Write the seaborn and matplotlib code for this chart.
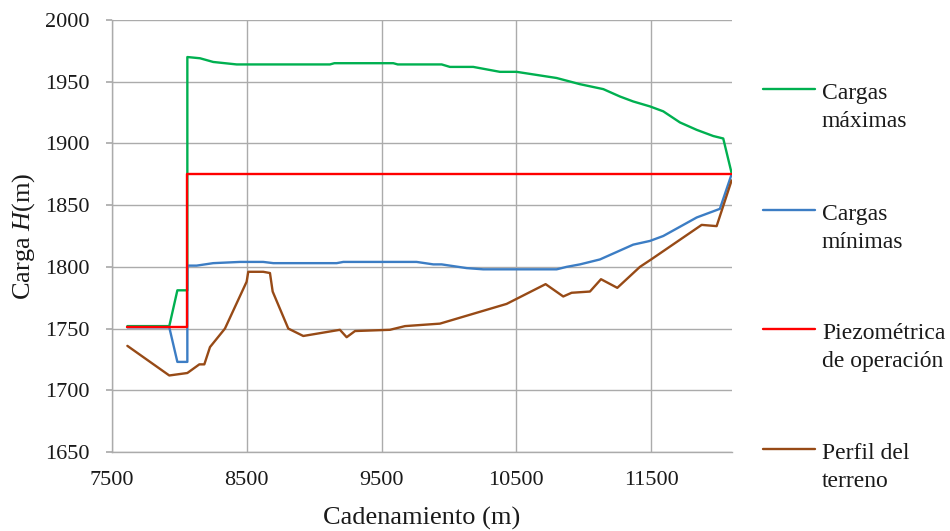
import pandas as pd
import matplotlib.pyplot as plt
import seaborn as sns
from matplotlib.lines import Line2D

# Cargas máximas
max_x = [7614, 7925, 7985, 8042, 8059, 8059, 8153, 8251, 8425, 9117, 9150, 9587, 9620,
         9946, 10007, 10180, 10378, 10502, 10799, 10972, 11145, 11269, 11367, 11491,
         11590, 11714, 11838, 11961, 12035, 12097]
max_y = [1752, 1752, 1781, 1781, 1781, 1970, 1969, 1966, 1964, 1964, 1965, 1965, 1964,
         1964, 1962, 1962, 1958, 1958, 1953, 1948, 1944, 1938, 1934, 1930,
         1926, 1917, 1911, 1906, 1904, 1876]

# Cargas mínimas
min_x = [7614, 7925, 7985, 8059, 8059, 8128, 8251, 8450, 8622, 8697, 9167, 9216, 9760,
         9884, 9946, 10131, 10254, 10799, 10873, 10972, 11120, 11367, 11491, 11590,
         11838, 12010, 12097]
min_y = [1751, 1751, 1723, 1723, 1801, 1801, 1803, 1804, 1804, 1803, 1803, 1804, 1804,
         1802, 1802, 1799, 1798, 1798, 1800, 1802, 1806, 1818, 1821, 1825,
         1840, 1847, 1875]

# Piezométrica de operación
piezo_x = [7614, 8059, 8059, 12097]
piezo_y = [1751, 1751, 1875, 1875]

# Perfil del terreno
terr_x = [7614, 7925, 8059, 8148, 8185, 8227, 8338, 8499, 8511, 8622, 8672, 8692, 8808,
          8919, 9191, 9241, 9303, 9562, 9674, 9933, 10428, 10717, 10848, 10910, 11046,
          11128, 11249, 11417, 11500, 11875, 11986, 12097]
terr_y = [1736, 1712, 1714, 1721, 1721, 1735, 1750, 1788, 1796, 1796, 1795, 1780, 1750,
          1744, 1749, 1743, 1748, 1749, 1752, 1754, 1770, 1786, 1776, 1779, 1780,
          1790, 1783, 1800, 1806, 1834, 1833, 1870]

series_names = ["Cargas\nmáximas", "Cargas\nmínimas", "Piezométrica\nde operación", "Perfil del\nterreno"]
series_colors = ["#00B050", "#3C7DC4", "#FF0000", "#974A16"]
y_ticks = [1650, 1700, 1750, 1800, 1850, 1900, 1950, 2000]
x_ticks = [7500, 8500, 9500, 10500, 11500]


def build_frame() -> pd.DataFrame:
    parts = []
    for name, xs, ys in zip(series_names,
                            [max_x, min_x, piezo_x, terr_x],
                            [max_y, min_y, piezo_y, terr_y]):
        parts.append(pd.DataFrame({"x": xs, "y": ys, "serie": name}))
    return pd.concat(parts, ignore_index=True)


def main() -> None:
    sns.set_theme(style="white")
    plt.rcParams["font.family"] = ["Liberation Serif", "DejaVu Serif"]
    plt.rcParams["mathtext.fontset"] = "custom"
    plt.rcParams["mathtext.it"] = "Liberation Serif:italic"
    plt.rcParams["mathtext.rm"] = "Liberation Serif"

    df = build_frame()

    fig = plt.figure(figsize=(9.5, 5.31), dpi=100)
    ax = fig.add_axes([112 / 950, 1 - 452 / 531, 620 / 950, 432 / 531])

    sns.lineplot(data=df, x="x", y="y", hue="serie", hue_order=series_names,
                 palette=series_colors, sort=False, estimator=None, units="serie",
                 linewidth=1.7, legend=False, ax=ax)

    ax.set_xlim(7500, 12100)
    ax.set_ylim(1650, 2000)
    ax.set_xticks(x_ticks)
    ax.set_yticks(y_ticks)
    ax.grid(True, color="#ABABAB", linewidth=1.0)
    ax.set_axisbelow(True)
    for side in ["top", "right"]:
        ax.spines[side].set_visible(False)
    for side in ["left", "bottom"]:
        ax.spines[side].set_color("#ABABAB")
        ax.spines[side].set_linewidth(1.0)
    ax.tick_params(axis="y", left=True, length=4, color="#ABABAB", pad=12,
                   labelsize=16, labelcolor="#1a1a1a")
    ax.tick_params(axis="x", bottom=False, pad=8, labelsize=16, labelcolor="#1a1a1a")

    ax.set_xlabel("Cadenamiento (m)", fontsize=19, labelpad=12, color="#1a1a1a")
    ax.set_ylabel("Carga $\\mathit{H}$(m)", fontsize=19, labelpad=6, color="#1a1a1a")

    # legend drawn at the right, handle aligned with first line of each label
    handle_y = [89, 210, 329, 449]
    for name, color, py in zip(series_names, series_colors, handle_y):
        yf = 1 - py / 531
        fig.add_artist(Line2D([763 / 950, 815 / 950], [yf, yf], color=color,
                              linewidth=1.7, transform=fig.transFigure))
        fig.text(822 / 950, yf + 6 / 531, name, fontsize=17, va="top", ha="left",
                 linespacing=1.42, color="#1a1a1a")

    fig.savefig("out.png", dpi=100)
    plt.close(fig)


if __name__ == "__main__":
    main()
